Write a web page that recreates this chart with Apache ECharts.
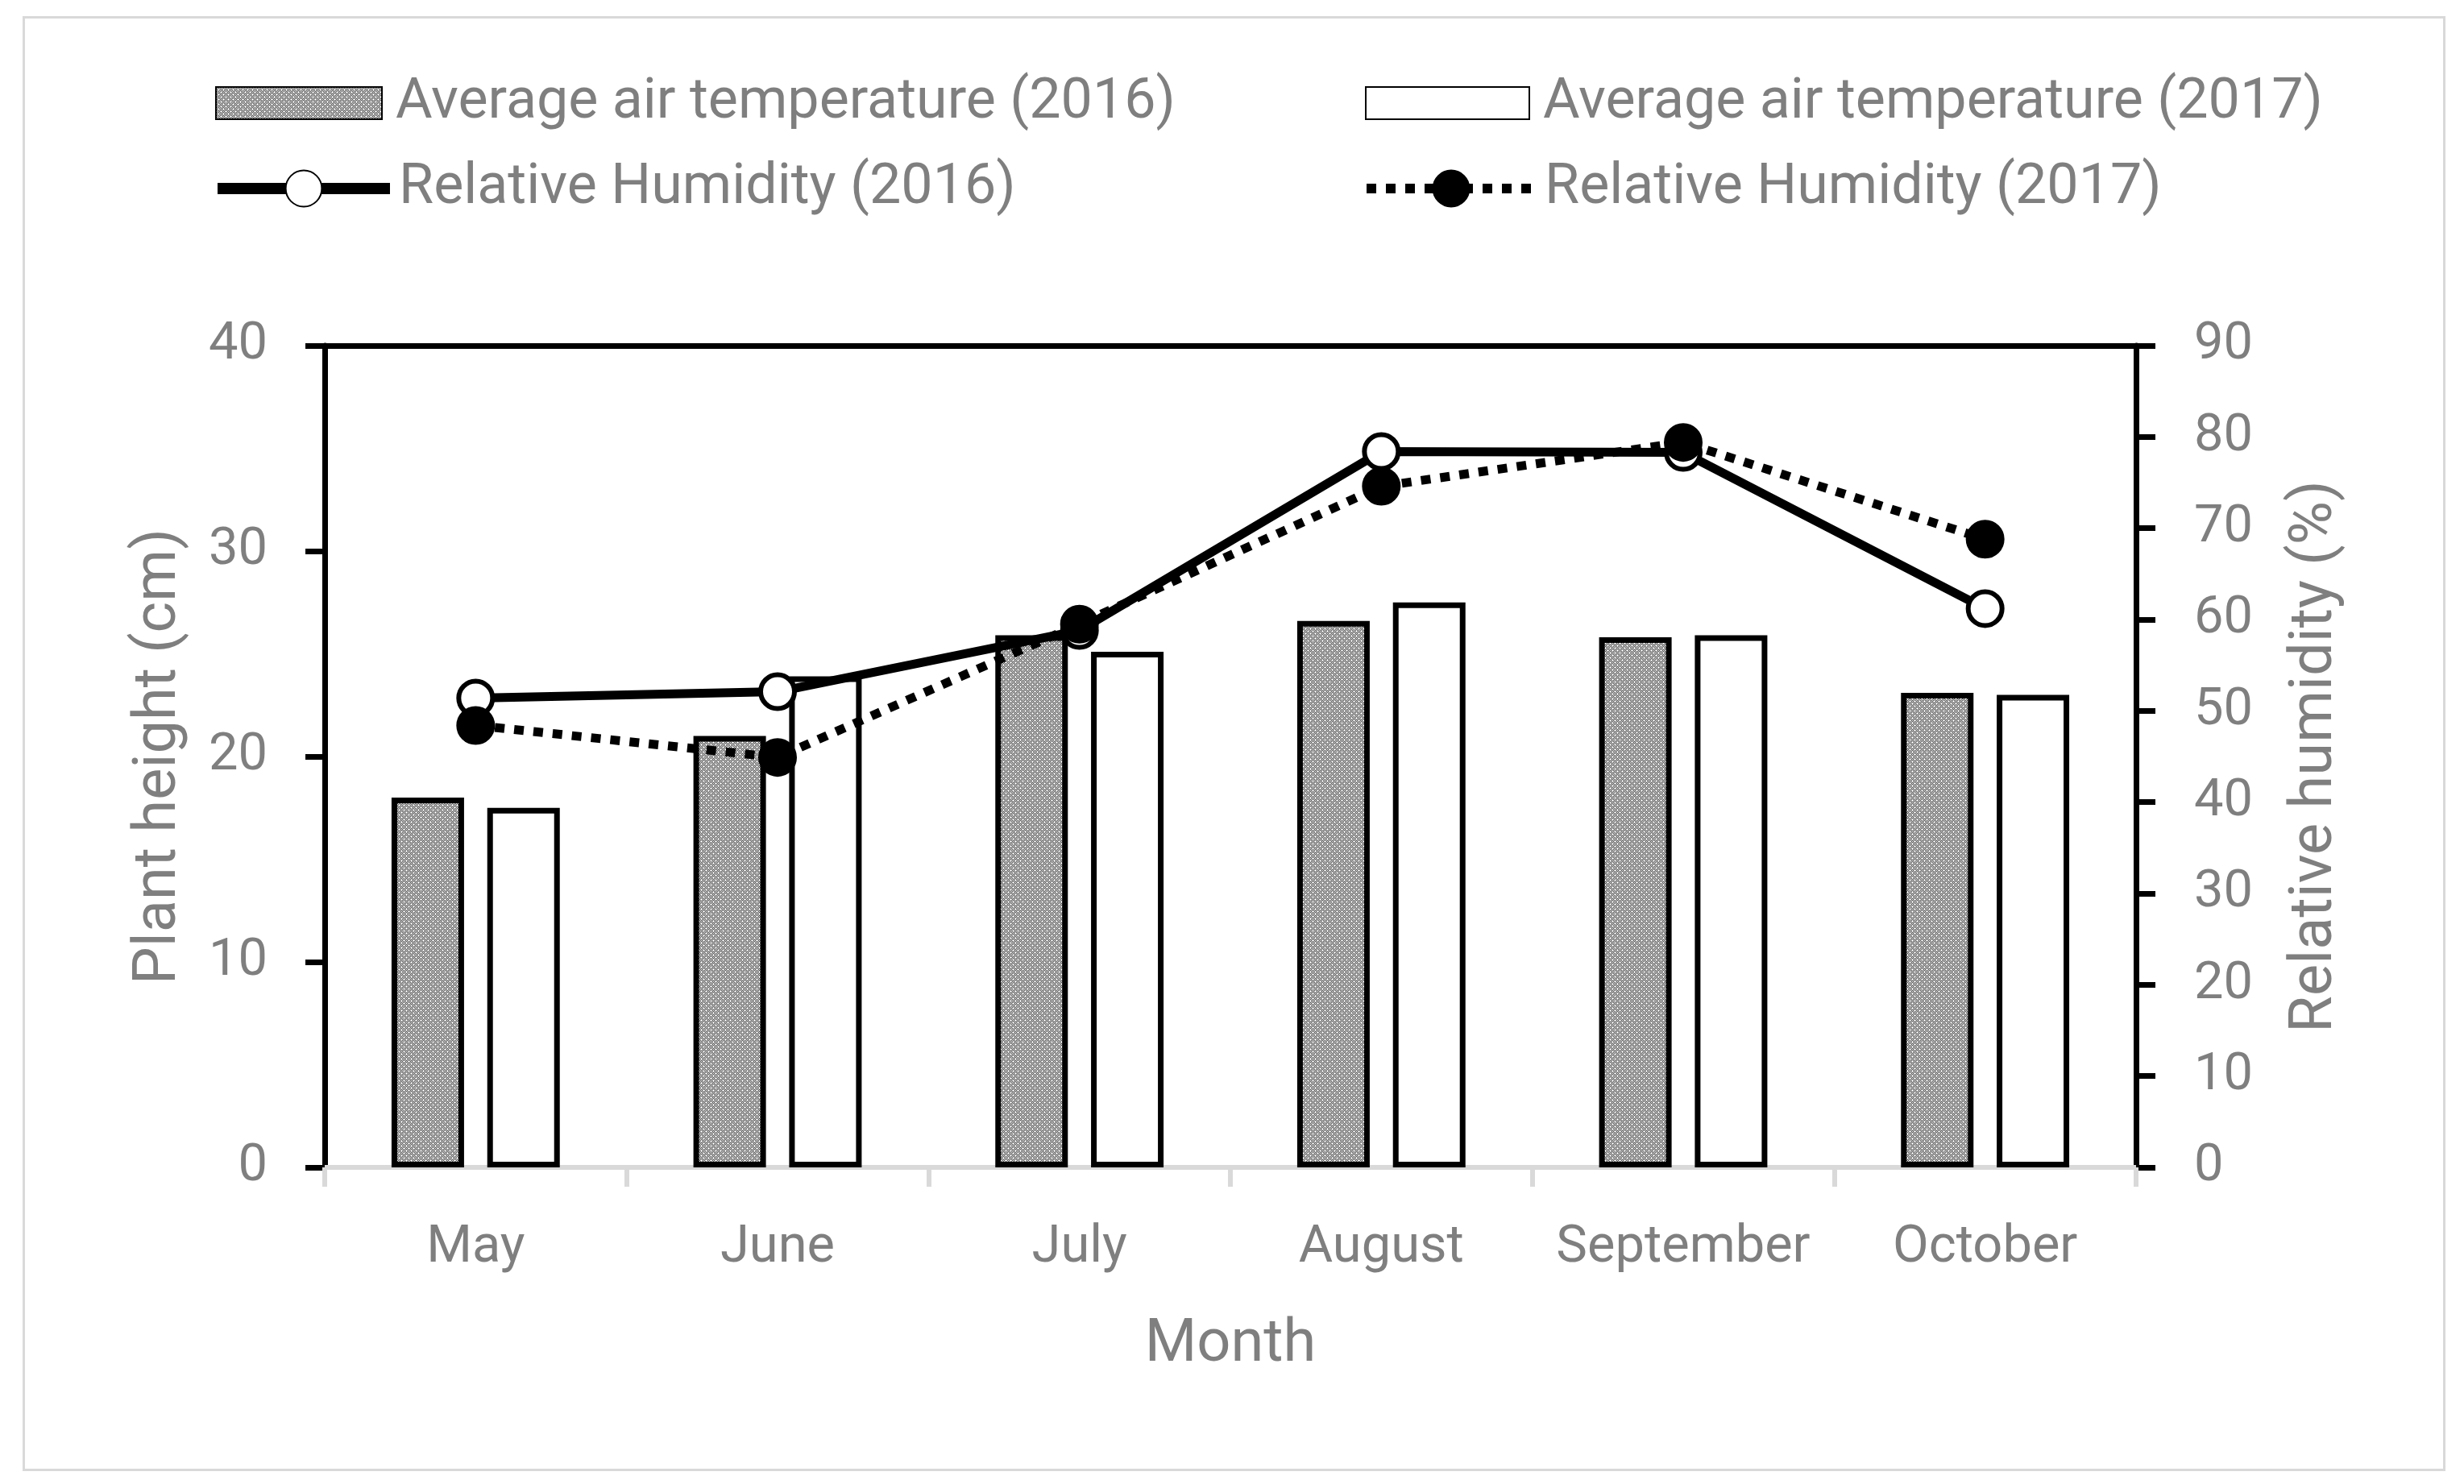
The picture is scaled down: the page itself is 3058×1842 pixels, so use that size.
<!DOCTYPE html>
<html>
<head>
<meta charset="utf-8">
<script src="https://cdn.jsdelivr.net/npm/echarts@6/dist/echarts.min.js"></script>
<style>
html,body{margin:0;padding:0;background:#fff;}
#c{width:3058px;height:1842px;}
</style>
</head>
<body>
<div id="c"></div>
<script>
var months = ['May', 'June', 'July', 'August', 'September', 'October'];
var temp2016 = [18.0, 21.0, 25.9, 26.6, 25.8, 23.1];
var temp2017 = [17.5, 23.9, 25.1, 27.5, 25.9, 23.0];
var rh2016 = [51.4, 52.1, 58.8, 78.4, 78.3, 61.2];
var rh2017 = [48.4, 44.9, 59.5, 74.6, 79.4, 68.8];
var leftTicks = [0, 10, 20, 30, 40];
var rightTicks = [0, 10, 20, 30, 40, 50, 60, 70, 80, 90];

var names = ['Average air temperature (2016)', 'Average air temperature (2017)',
             'Relative Humidity (2016)', 'Relative Humidity (2017)'];

// dotted fill pattern
var pc = document.createElement('canvas');
pc.width = 6; pc.height = 6;
var pctx = pc.getContext('2d');
pctx.fillStyle = '#ffffff';
pctx.fillRect(0, 0, 6, 6);
for (var y = 0; y < 6; y++) {
  for (var x = 0; x < 6; x++) {
    if ((x + y) % 2 === 0 && !(x === 3 && y === 3) && !(x === 0 && y === 0)) {
      pctx.fillStyle = '#333333';
      pctx.fillRect(x, y, 1, 1);
    }
  }
}

var gray = '#7f7f7f';
var font = 'Roboto';
var chart = echarts.init(document.getElementById('c'), null, {renderer: 'canvas', devicePixelRatio: 1});

function legendBase(name, left, top, w, h, pad) {
  return {
    data: [name], left: left, top: top, itemWidth: w, itemHeight: h,
    selectedMode: false,
    textStyle: {color: gray, fontSize: 70, fontFamily: font, padding: [0, 0, 0, pad]}
  };
}

var option = {
  backgroundColor: '#ffffff',
  animation: false,
  graphic: [{
    type: 'rect', left: 27, top: 19,
    shape: {width: 3004, height: 1803},
    style: {fill: 'none', stroke: '#d9d9d9', lineWidth: 3}
  }],
  legend: [
    Object.assign(legendBase(names[0], 262, 88, 206, 40, 12), {icon: 'rect'}),
    Object.assign(legendBase(names[1], 1689, 88, 203, 40, 12), {icon: 'rect'}),
    Object.assign(legendBase(names[2], 258, 194, 214, 56, 6), {lineStyle: {width: 14}}),
    Object.assign(legendBase(names[3], 1685, 194, 210, 56, 6), {lineStyle: {width: 12}})
  ],
  grid: {left: 403, right: 407, top: 429, bottom: 393},
  xAxis: [{
    type: 'category', data: months, position: 'bottom',
    axisLine: {onZero: false, lineStyle: {color: '#d9d9d9', width: 6}},
    axisTick: {show: true, alignWithLabel: false, interval: 0, length: 24, lineStyle: {color: '#d9d9d9', width: 6}},
    axisLabel: {color: gray, fontSize: 65, fontFamily: font, margin: 68, interval: 0},
    name: 'Month', nameLocation: 'middle', nameGap: 184,
    nameTextStyle: {color: gray, fontSize: 74, fontFamily: font}
  }, {
    type: 'category', data: months, position: 'top',
    axisLine: {onZero: false, lineStyle: {color: '#000', width: 7}},
    axisTick: {show: false}, axisLabel: {show: false}
  }],
  yAxis: [{
    type: 'value', min: 0, max: 40, interval: 10, position: 'left',
    axisLine: {show: true, onZero: false, lineStyle: {color: '#000', width: 7}},
    axisTick: {show: true, length: 24, lineStyle: {color: '#000', width: 7}},
    splitLine: {show: false},
    axisLabel: {color: gray, fontSize: 65, fontFamily: font, margin: 71,
      formatter: function (v) { return leftTicks.indexOf(v) >= 0 ? String(v) : ''; }},
    name: 'Plant height (cm)', nameLocation: 'middle', nameGap: 168,
    nameTextStyle: {color: gray, fontSize: 74, fontFamily: font}
  }, {
    type: 'value', min: 0, max: 90, interval: 10, position: 'right',
    axisLine: {show: true, onZero: false, lineStyle: {color: '#000', width: 7}},
    axisTick: {show: true, length: 24, lineStyle: {color: '#000', width: 7}},
    splitLine: {show: false},
    axisLabel: {color: gray, fontSize: 65, fontFamily: font, margin: 72,
      formatter: function (v) { return rightTicks.indexOf(v) >= 0 ? String(v) : ''; }},
    name: 'Relative humidity (%)', nameLocation: 'middle', nameGap: 186,
    nameTextStyle: {color: gray, fontSize: 74, fontFamily: font}
  }],
  series: [{
    name: names[0], type: 'bar', data: temp2016, barWidth: 90, barGap: '32%',
    itemStyle: {color: {image: pc, repeat: 'repeat'}, borderColor: '#000', borderWidth: 7}
  }, {
    name: names[1], type: 'bar', data: temp2017, barWidth: 90, barGap: '32%',
    itemStyle: {color: '#ffffff', borderColor: '#000', borderWidth: 7}
  }, {
    name: names[2], type: 'line', yAxisIndex: 1, data: rh2016,
    symbol: 'circle', symbolSize: 42,
    lineStyle: {color: '#000', width: 11},
    itemStyle: {color: '#ffffff', borderColor: '#000', borderWidth: 6}
  }, {
    name: names[3], type: 'line', yAxisIndex: 1, data: rh2017,
    symbol: 'circle', symbolSize: 44,
    lineStyle: {color: '#000', width: 11, type: [12, 12], cap: 'butt'},
    itemStyle: {color: '#000000', borderColor: '#000', borderWidth: 4}
  }]
};
chart.setOption(option);
</script>
</body>
</html>
